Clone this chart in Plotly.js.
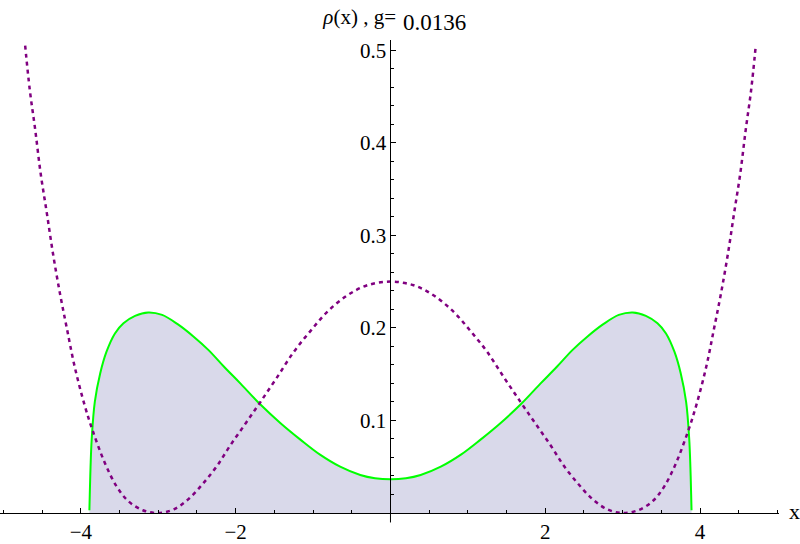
<!DOCTYPE html>
<html>
<head>
<meta charset="utf-8">
<script src="https://cdn.plot.ly/plotly-3.0.1.min.js"></script>
<style>
  body { margin: 0; background: #fff; }
  #plotArea { width: 800px; height: 544px; }
</style>
</head>
<body>
<div id="plotArea"></div>
<script>
// density rho(x)
var rhoX = [-3.89, -3.885, -3.875, -3.86, -3.82, -3.75, -3.67, -3.56, -3.45, -3.3, -3.13, -2.95, -2.75, -2.55, -2.35, -2.15, -1.94, -1.69, -1.42, -1.16, -0.91, -0.65, -0.39, -0.2, 0,
            0.2, 0.39, 0.65, 0.91, 1.16, 1.42, 1.69, 1.94, 2.15, 2.35, 2.55, 2.75, 2.95, 3.13, 3.3, 3.45, 3.56, 3.67, 3.75, 3.82, 3.86, 3.875, 3.885, 3.89];
var rhoY = [0.003, 0.02, 0.05, 0.08, 0.12, 0.151, 0.174, 0.194, 0.205, 0.213, 0.2167, 0.214, 0.204, 0.191, 0.176, 0.158, 0.14, 0.118, 0.097, 0.079, 0.063, 0.05, 0.041, 0.0375, 0.0364,
            0.0375, 0.041, 0.05, 0.063, 0.079, 0.097, 0.118, 0.14, 0.158, 0.176, 0.191, 0.204, 0.214, 0.2167, 0.213, 0.205, 0.194, 0.174, 0.151, 0.12, 0.08, 0.05, 0.02, 0.003];

// dotted potential curve
var potX = [-4.72, -4.66, -4.59, -4.52, -4.44, -4.36, -4.27, -4.18, -4.08, -3.95, -3.85, -3.69, -3.54, -3.39, -3.2, -3.0, -2.8, -2.61, -2.42, -2.24, -2.07, -1.87, -1.68, -1.47, -1.25, -1.04, -0.82, -0.56, -0.3, 0,
            0.3, 0.56, 0.82, 1.04, 1.25, 1.47, 1.68, 1.87, 2.07, 2.24, 2.42, 2.61, 2.8, 3.0, 3.2, 3.39, 3.54, 3.69, 3.85, 3.95, 4.08, 4.18, 4.27, 4.36, 4.44, 4.52, 4.59, 4.66, 4.72];
var potY = [0.505, 0.457, 0.414, 0.367, 0.324, 0.28, 0.237, 0.199, 0.158, 0.116, 0.0896, 0.054, 0.029, 0.013, 0.003, 0, 0.004, 0.015, 0.032, 0.051, 0.073, 0.097, 0.12, 0.146, 0.174, 0.196, 0.217, 0.235, 0.246, 0.25,
            0.246, 0.235, 0.217, 0.196, 0.174, 0.146, 0.12, 0.097, 0.073, 0.051, 0.032, 0.015, 0.004, 0, 0.003, 0.013, 0.029, 0.054, 0.0896, 0.116, 0.158, 0.199, 0.237, 0.28, 0.324, 0.367, 0.414, 0.457, 0.505];

var xTicks = [-4, -2, 0, 2, 4];
var xTickText = ["\u22124", "\u22122", "", "2", "4"];
var yTicks = [0.1, 0.2, 0.3, 0.4, 0.5];
var gValue = "0.0136";

var xMin = -5.045, xMax = 5.02;

var rhoTrace = {
    x: rhoX,
    y: rhoY,
    type: "scatter",
    mode: "lines",
    line: {color: "#00ff00", width: 2, shape: "spline", smoothing: 1},
    fill: "tozeroy",
    fillcolor: "rgb(217,217,234)",
    hoverinfo: "skip"
};

var potTrace = {
    x: potX,
    y: potY,
    type: "scatter",
    mode: "lines",
    line: {color: "rgb(128,0,128)", width: 2.5, dash: "4px,4px", shape: "spline", smoothing: 1},
    hoverinfo: "skip"
};

var serif = "Liberation Serif, Times New Roman, serif";

var layout = {
    width: 800,
    height: 544,
    margin: {l: 0, r: 21, t: 40, b: 31},
    paper_bgcolor: "#fff",
    plot_bgcolor: "#fff",
    showlegend: false,
    title: {
        text: "<i>\u03c1</i>(x) , g=",
        font: {family: serif, size: 21, color: "#000"},
        x: 396 / 800, xanchor: "right",
        y: 1 - 17 / 544, yanchor: "middle"
    },
    xaxis: {
        range: [xMin, xMax],
        showgrid: false,
        zeroline: false,
        showline: true,
        linecolor: "#000",
        linewidth: 1,
        ticks: "inside",
        ticklen: 5,
        tickwidth: 1,
        tickcolor: "#000",
        tickmode: "array",
        tickvals: xTicks,
        ticktext: xTickText,
        tickfont: {family: serif, size: 21, color: "#000"},
        minor: {tickmode: "array", tickvals: [-5, -4.5, -3.5, -3, -2.5, -1.5, -1, -0.5, 0.5, 1, 1.5, 2.5, 3, 3.5, 4.5, 5],
                ticks: "inside", ticklen: 3, tickcolor: "#000", showgrid: false},
        automargin: false,
        fixedrange: true
    },
    yaxis: {
        range: [0, 0.511],
        anchor: "free",
        position: (0 - xMin) / (xMax - xMin),
        showgrid: false,
        zeroline: false,
        showline: true,
        linecolor: "#000",
        linewidth: 1,
        ticks: "inside",
        ticklen: 5,
        tickwidth: 1,
        tickcolor: "#000",
        tickmode: "array",
        tickvals: yTicks,
        tickfont: {family: serif, size: 21, color: "#000"},
        minor: {dtick: 0.02, tick0: 0, ticks: "inside", ticklen: 3, tickcolor: "#000", showgrid: false},
        automargin: false,
        fixedrange: true
    },
    shapes: [
        {type: "line", xref: "x", yref: "paper", x0: 0, x1: 0, y0: -0.02, y1: 0,
         line: {color: "#000", width: 1}}
    ],
    annotations: [
        {text: gValue, xref: "paper", yref: "paper", x: 401 / 779, y: 1, xanchor: "left", yanchor: "bottom",
         yshift: 3, showarrow: false, font: {family: serif, size: 23, color: "#000"}},
        {text: "x", xref: "paper", yref: "paper", x: 1.01, y: 0, xanchor: "left", yanchor: "middle",
         yshift: 2, showarrow: false, font: {family: serif, size: 22, color: "#000"}}
    ]
};

Plotly.newPlot("plotArea", [rhoTrace, potTrace], layout, {displayModeBar: false, staticPlot: true});
</script>
</body>
</html>
